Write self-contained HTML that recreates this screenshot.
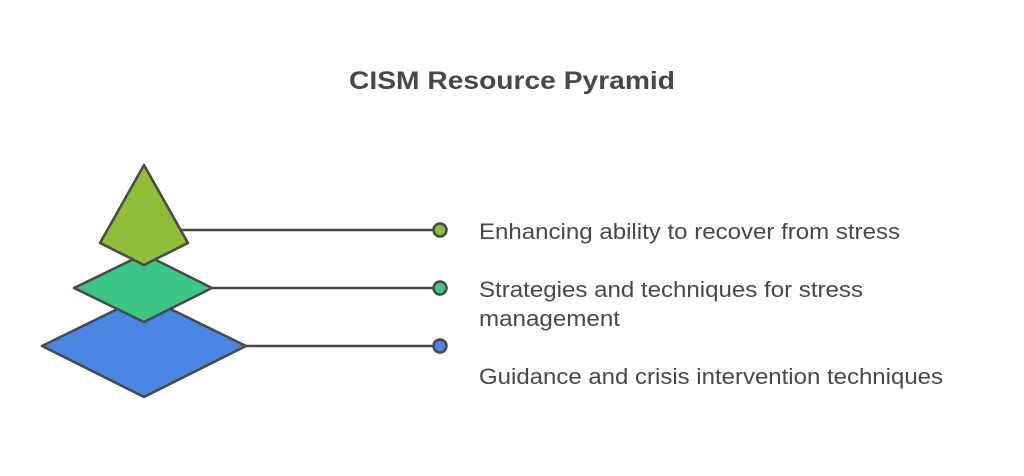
<!DOCTYPE html>
<html><head><meta charset="utf-8"><style>
html,body{margin:0;padding:0;background:#fff;}
svg{display:block;}
text{font-family:"Liberation Sans",Arial,sans-serif;fill:#484848;}
</style></head><body>
<svg width="1024" height="476" viewBox="0 0 1024 476">
<text x="349" y="89" font-size="25" font-weight="bold" fill="#444" textLength="326" lengthAdjust="spacingAndGlyphs">CISM Resource Pyramid</text>
<g stroke="#484848" stroke-width="2.5" stroke-linejoin="round">
<line x1="200" y1="346" x2="434" y2="346"/>
<line x1="200" y1="288" x2="434" y2="288"/>
<line x1="170" y1="230" x2="434" y2="230"/>
<polygon points="144,296 246,346 144,397 42,346" fill="#4A86E4"/>
<polygon points="144,254 212,288 144,322 74,288" fill="#3CC583"/>
<polygon points="144,165 188,243 144,265 100,243" fill="#90BC38"/>
<circle cx="440" cy="230" r="6.5" fill="#90BC38"/>
<circle cx="440" cy="288" r="6.5" fill="#3CC583"/>
<circle cx="440" cy="346" r="6.5" fill="#4A86E4"/>
</g>
<text x="479" y="239" font-size="22" textLength="421" lengthAdjust="spacingAndGlyphs">Enhancing ability to recover from stress</text>
<text x="479" y="297" font-size="22" textLength="384" lengthAdjust="spacingAndGlyphs">Strategies and techniques for stress</text>
<text x="479" y="326" font-size="22" textLength="141" lengthAdjust="spacingAndGlyphs">management</text>
<text x="479" y="384" font-size="22" textLength="464" lengthAdjust="spacingAndGlyphs">Guidance and crisis intervention techniques</text>
</svg>
</body></html>
